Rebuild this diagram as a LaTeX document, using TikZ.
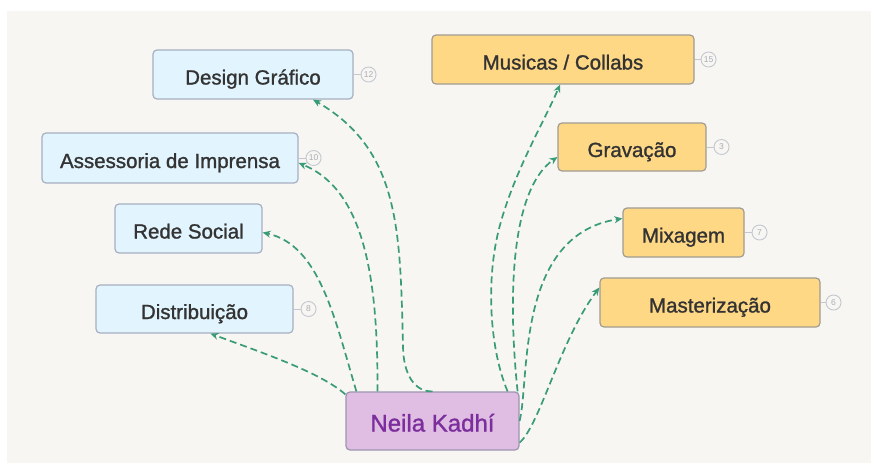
\documentclass[tikz,border=0pt]{standalone}
\usepackage{fontspec}
\setmainfont{Liberation Sans}
\usetikzlibrary{arrows.meta, positioning}

\definecolor{panel}{HTML}{F7F6F2}
\definecolor{ink}{HTML}{333333}
\definecolor{sky}{HTML}{E2F4FD}
\definecolor{skyline}{HTML}{A7B0C2}
\definecolor{sand}{HTML}{FFD886}
\definecolor{sandline}{HTML}{A19C92}
\definecolor{lilac}{HTML}{E0BDE3}
\definecolor{lilacline}{HTML}{9D95B0}
\definecolor{plum}{HTML}{7B2E9C}
\definecolor{linkgreen}{HTML}{3A9B78}
\definecolor{badgeline}{HTML}{C3C7CF}
\definecolor{badgetext}{HTML}{A9ADB5}

\begin{document}
\begin{tikzpicture}[
      x=1pt, y=-1pt,
      topic/.style={draw=skyline, line width=1.2pt, rounded corners=4pt,
                    fill=sky, text=ink, inner sep=0pt, minimum height=49pt,
                    text height=20pt, text depth=0pt,
                    font=\fontsize{20.5}{24}\selectfont\addfontfeature{FakeBold=1.2}},
      gold/.style={topic, fill=sand, draw=sandline},
      central/.style={draw=lilacline, line width=1.2pt, rounded corners=4pt,
                      fill=lilac, text=plum, inner sep=0pt,
                      minimum width=173pt, minimum height=58pt,
                      text height=21pt, text depth=0pt,
                      font=\fontsize{24}{28}\selectfont\addfontfeature{FakeBold=1.2}},
      badge/.style={circle, draw=badgeline, line width=0.9pt, fill=panel,
                    minimum size=15pt, inner sep=0pt, text=badgetext,
                    font=\fontsize{8.5}{8.5}\selectfont},
      tick/.style={draw=badgeline, line width=0.9pt},
      link/.style={->, draw=linkgreen, line width=1.7pt,
                   dash pattern=on 7pt off 4pt},
      >={Stealth[length=8pt, width=7pt]}
    ]
    \useasboundingbox (0,0) rectangle (871,463);
    \fill[panel] (7,11) rectangle (871,463);

    \node[central] (neila) at (432.5,421) {Neila Kadhí};

    % ramo da esquerda
    \node[topic, minimum width=200pt] (design) at (253,74.5) {Design Gráfico};
    \node[topic, minimum width=256pt, minimum height=50pt]
          (assessoria) at (170,158) {Assessoria de Imprensa};
    \node[topic, minimum width=147pt] (rede) at (188.5,228.5) {Rede Social};
    \node[topic, minimum width=197pt, minimum height=48pt]
          (distribuicao) at (194.5,309) {Distribuição};

    % ramo da direita
    \node[gold, minimum width=262pt] (musicas) at (563,59.5) {Musicas / Collabs};
    \node[gold, minimum width=148pt, minimum height=48pt]
          (gravacao) at (632,147) {Gravação};
    \node[gold, minimum width=121pt] (mixagem) at (683.5,232.5) {Mixagem};
    \node[gold, minimum width=220pt] (masterizacao) at (710,302.5) {Masterização};

    % contadores
    \node[badge, right=7pt of design] (n-design) {12};
    \node[badge, right=7pt of assessoria] (n-assessoria) {10};
    \node[badge, right=7pt of distribuicao] (n-distribuicao) {8};
    \node[badge, right=6pt of musicas] (n-musicas) {15};
    \node[badge, right=7pt of gravacao] (n-gravacao) {3};
    \node[badge, right=7pt of mixagem] (n-mixagem) {7};
    \node[badge, right=5pt of masterizacao] (n-masterizacao) {6};
    \foreach \t in {design, assessoria, distribuicao, musicas,
                    gravacao, mixagem, masterizacao}
      \draw[tick] (\t.east) -- (n-\t.west);

    % ligações
    \draw[link] (neila.north) .. controls (415,392) and (403,375) .. (403,345)
          .. controls (400,230) and (400,150) .. ([xshift=60pt]design.south);
    \draw[link] ([xshift=-55pt]neila.north) .. controls (378,280) and (365,190)
          .. ([yshift=-5pt]assessoria.east);
    \draw[link] ([xshift=11pt]neila.north west) .. controls (335,320) and (320,245)
          .. ([yshift=-4pt]rede.east);
    \draw[link] ([yshift=-3pt]neila.north west) .. controls (320,372) and (260,352)
          .. ([xshift=16pt]distribuicao.south);
    \draw[link] ([xshift=-12pt]neila.north east) .. controls (490,350) and (485,280)
          .. (500,225) .. controls (515,170) and (545,120)
          .. ([xshift=-3pt]musicas.south);
    \draw[link] ([xshift=-2pt]neila.north east) .. controls (508,300) and (510,190)
          .. ([yshift=-10pt]gravacao.west);
    \draw[link] (neila.east) .. controls (530,380) and (515,235)
          .. ([yshift=14pt]mixagem.west);
    \draw[link] ([yshift=8pt]neila.south east) .. controls (540,425) and (560,340)
          .. ([yshift=15pt]masterizacao.west);
  \end{tikzpicture}
\end{document}
